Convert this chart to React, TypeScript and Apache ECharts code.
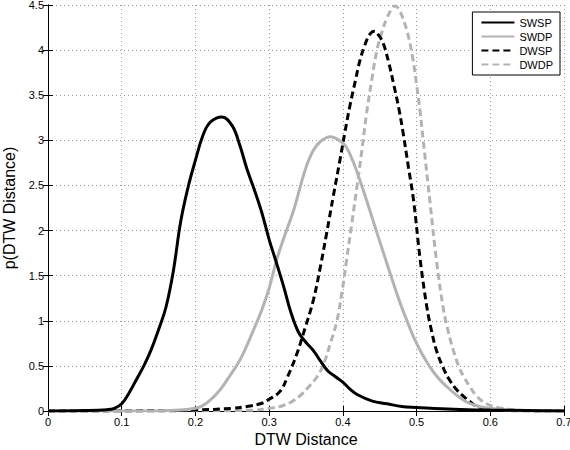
import React, { useEffect, useRef } from "react";
import * as echarts from "echarts";

const xTicks = [0, 0.1, 0.2, 0.3, 0.4, 0.5, 0.6, 0.7];
const yTicks = [0, 0.5, 1, 1.5, 2, 2.5, 3, 3.5, 4, 4.5];
const seriesNames = ["SWSP", "SWDP", "DWSP", "DWDP"];

const swspX = [0, 0.05, 0.08, 0.09, 0.1, 0.11, 0.12, 0.13, 0.14, 0.15, 0.16, 0.17, 0.18, 0.19, 0.2, 0.21, 0.22, 0.236, 0.25, 0.26, 0.27, 0.28, 0.29, 0.3, 0.31, 0.32, 0.33, 0.34, 0.35, 0.36, 0.37, 0.38, 0.39, 0.4, 0.41, 0.42, 0.44, 0.46, 0.48, 0.5, 0.55, 0.6, 0.65, 0.7];
const swspY = [0, 0.005, 0.015, 0.03, 0.08, 0.2, 0.35, 0.5, 0.68, 0.9, 1.15, 1.55, 2.1, 2.48, 2.78, 3.05, 3.2, 3.26, 3.16, 2.95, 2.68, 2.45, 2.2, 1.9, 1.64, 1.37, 1.08, 0.87, 0.76, 0.67, 0.55, 0.44, 0.38, 0.32, 0.24, 0.18, 0.11, 0.08, 0.05, 0.04, 0.02, 0.01, 0.005, 0];

const swdpX = [0, 0.15, 0.18, 0.2, 0.21, 0.22, 0.233, 0.245, 0.26, 0.27, 0.28, 0.29, 0.3, 0.31, 0.32, 0.333, 0.342, 0.35, 0.36, 0.37, 0.383, 0.395, 0.405, 0.415, 0.423, 0.432, 0.441, 0.45, 0.46, 0.47, 0.478, 0.487, 0.496, 0.507, 0.518, 0.53, 0.541, 0.555, 0.568, 0.585, 0.6, 0.62, 0.65, 0.7];
const swdpY = [0, 0.002, 0.01, 0.03, 0.06, 0.12, 0.23, 0.37, 0.56, 0.73, 0.92, 1.12, 1.36, 1.67, 1.92, 2.22, 2.48, 2.7, 2.89, 2.99, 3.04, 3.0, 2.92, 2.74, 2.56, 2.34, 2.11, 1.88, 1.63, 1.38, 1.19, 1.0, 0.82, 0.64, 0.49, 0.36, 0.27, 0.17, 0.1, 0.05, 0.03, 0.01, 0.003, 0];

const dwspX = [0, 0.15, 0.2, 0.25, 0.27, 0.288, 0.3, 0.315, 0.325, 0.337, 0.348, 0.36, 0.37, 0.378, 0.387, 0.396, 0.403, 0.41, 0.417, 0.423, 0.43, 0.437, 0.443, 0.449, 0.455, 0.462, 0.469, 0.476, 0.482, 0.489, 0.496, 0.505, 0.514, 0.52, 0.527, 0.536, 0.545, 0.555, 0.564, 0.573, 0.582, 0.6, 0.62, 0.7];
const dwspY = [0, 0.002, 0.01, 0.03, 0.05, 0.08, 0.13, 0.22, 0.38, 0.62, 0.9, 1.23, 1.62, 1.97, 2.38, 2.78, 3.1, 3.4, 3.66, 3.88, 4.06, 4.18, 4.21, 4.16, 4.07, 3.87, 3.62, 3.35, 3.07, 2.7, 2.33, 1.67, 1.15, 0.9, 0.67, 0.48, 0.34, 0.23, 0.16, 0.1, 0.05, 0.02, 0.005, 0];

const dwdpX = [0, 0.2, 0.28, 0.3, 0.315, 0.33, 0.342, 0.355, 0.365, 0.374, 0.383, 0.392, 0.399, 0.405, 0.412, 0.419, 0.426, 0.432, 0.439, 0.446, 0.453, 0.46, 0.466, 0.471, 0.478, 0.487, 0.494, 0.5, 0.505, 0.509, 0.518, 0.527, 0.536, 0.543, 0.55, 0.557, 0.564, 0.573, 0.582, 0.595, 0.61, 0.63, 0.65, 0.7];
const dwdpY = [0, 0.002, 0.01, 0.03, 0.05, 0.1, 0.17, 0.28, 0.38, 0.52, 0.75, 1.0, 1.33, 1.67, 2.07, 2.48, 2.9, 3.29, 3.66, 3.99, 4.2, 4.36, 4.45, 4.49, 4.42, 4.21, 3.95, 3.62, 3.3, 3.0, 2.33, 1.67, 1.15, 0.88, 0.67, 0.5, 0.38, 0.26, 0.16, 0.08, 0.04, 0.015, 0.005, 0];

const BLACK = "#000000";
const GRAY = "#b3b3b3";
const FONT = "Liberation Sans, Arial, Helvetica, sans-serif";

const pairs = (xs: number[], ys: number[]) => xs.map((x, i) => [x, ys[i]]);
const fmt = (v: number) => String(Number(v.toFixed(1)));

export default function App() {
  const ref = useRef<HTMLDivElement>(null);
  useEffect(() => {
    if (!ref.current) return;
    const chart = echarts.init(ref.current, undefined, { renderer: "svg" });
    const styles = [
      { color: BLACK, type: "solid" as any },
      { color: GRAY, type: "solid" as any },
      { color: BLACK, type: [7, 4] as any },
      { color: GRAY, type: [7, 4] as any },
    ];
    const datas = [pairs(swspX, swspY), pairs(swdpX, swdpY), pairs(dwspX, dwspY), pairs(dwdpX, dwdpY)];
    const axisCommon = {
      axisLine: { show: true, lineStyle: { color: "#000", width: 1 } },
      axisTick: { show: true, inside: true, length: 5, lineStyle: { color: "#000" } },
    };
    chart.setOption({
      animation: false,
      backgroundColor: "#fff",
      textStyle: { fontFamily: FONT },
      grid: { left: 48, right: 6, top: 5, bottom: 39, containLabel: false, outerBoundsMode: "none" },
      legend: {
        data: seriesNames,
        orient: "vertical",
        right: 10,
        top: 12,
        itemWidth: 33,
        itemHeight: 11,
        itemGap: 3,
        padding: [5, 7, 5, 8],
        borderColor: "#000",
        borderWidth: 1,
        backgroundColor: "#fff",
        itemStyle: { opacity: 0 },
        textStyle: { fontSize: 11, color: "#000", fontFamily: FONT },
      },
      xAxis: [
        {
          type: "value",
          min: 0,
          max: 0.7,
          interval: 0.1,
          name: "DTW Distance",
          nameLocation: "middle",
          nameGap: 14,
          nameTextStyle: { fontSize: 16, color: "#000", fontFamily: FONT },
          axisLabel: { fontSize: 11, color: "#000", margin: 5, formatter: fmt, fontFamily: FONT },
          splitLine: { show: true, lineStyle: { color: "#999", type: [1, 3], width: 1 } },
          ...axisCommon,
        },
        {
          type: "value",
          position: "top",
          min: 0,
          max: 0.7,
          interval: 0.1,
          axisLabel: { show: false },
          splitLine: { show: false },
          ...axisCommon,
        },
      ],
      yAxis: [
        {
          type: "value",
          min: 0,
          max: 4.5,
          interval: 0.5,
          name: "p(DTW Distance)",
          nameLocation: "middle",
          nameGap: 28,
          nameTextStyle: { fontSize: 16, color: "#000", fontFamily: FONT },
          axisLabel: { fontSize: 11, color: "#000", margin: 4, formatter: fmt, fontFamily: FONT },
          splitLine: { show: true, lineStyle: { color: "#999", type: [1, 3], width: 1 } },
          ...axisCommon,
        },
        {
          type: "value",
          position: "right",
          min: 0,
          max: 4.5,
          interval: 0.5,
          axisLabel: { show: false },
          splitLine: { show: false },
          ...axisCommon,
        },
      ],
      series: seriesNames.map((n, i) => ({
        name: n,
        type: "line",
        xAxisIndex: 0,
        yAxisIndex: 0,
        data: datas[i],
        showSymbol: false,
        symbol: "none",
        smooth: 0.4,
        lineStyle: { color: styles[i].color, width: 3, type: styles[i].type },
        itemStyle: { color: styles[i].color },
        z: 2 + (3 - i),
      })),
    });
    return () => chart.dispose();
  }, []);
  return <div ref={ref} style={{ width: 570, height: 450, position: "absolute", left: 0, top: 0 }} />;
}
